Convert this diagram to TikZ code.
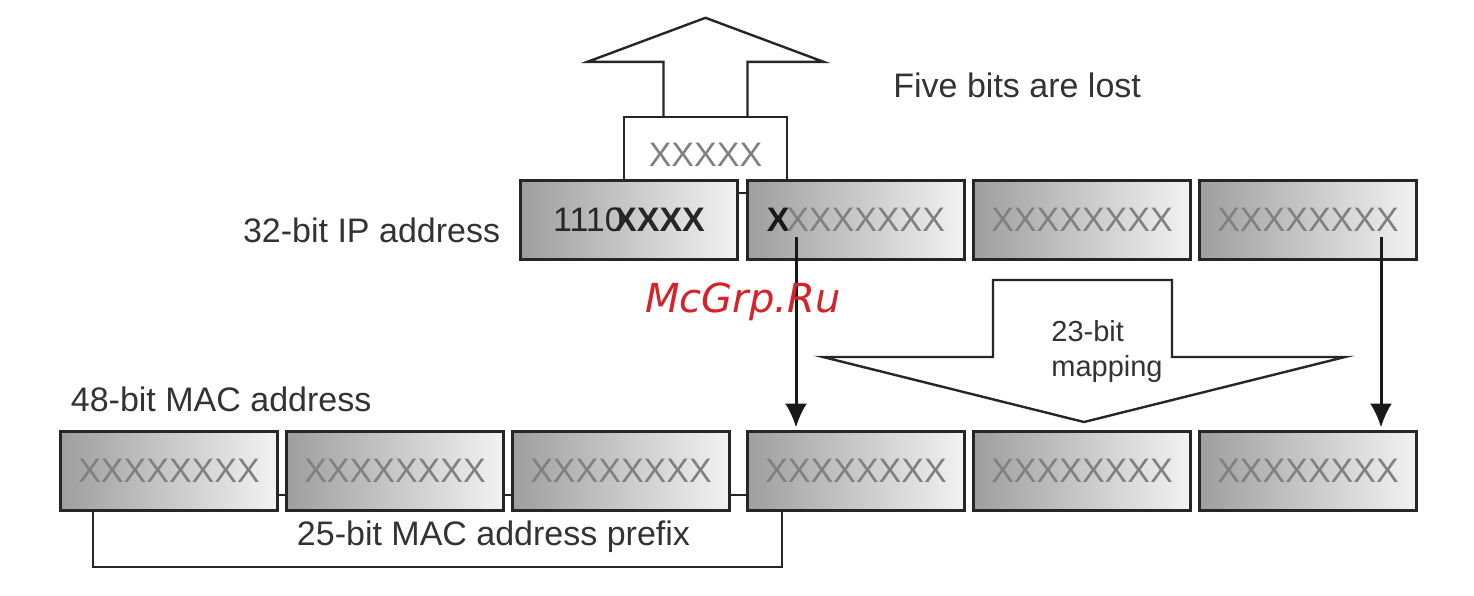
\documentclass[tikz,border=0pt]{standalone}
\usepackage{fontspec}
\setmainfont{Liberation Sans}
\newfontfamily\wmfont{DejaVu Sans}
\usepackage{xcolor}
\usetikzlibrary{%
  arrows.meta,
  positioning,
  calc,
  backgrounds}
\definecolor{wmred}{RGB}{214,34,40}
\tikzset{
  %% Byte boxes (IP and MAC rows)
  bytebox/.style={
    rectangle, draw=black!85, line width=1.5pt,
    left color=black!38, right color=black!5,
    minimum width=108.5pt, minimum height=39.5pt,
    inner sep=0pt, outer sep=0pt, text=black!50,
    font=\fontsize{17}{20}\selectfont},
  %% Box of the lost bits
  lostbox/.style={
    rectangle, draw=black!85, line width=1.2pt, fill=white,
    minimum width=81.5pt, minimum height=38pt,
    inner sep=0pt, text=black!50,
    font=\fontsize{17}{20}\selectfont},
  %% Hollow block arrows
  bigarrow/.style={draw=black!85, line width=1.2pt, fill=white, line join=miter},
  %% Plain texts
  txt/.style={inner sep=0pt, text=black!80, font=\fontsize{17}{20}\selectfont},
  smalltxt/.style={inner sep=0pt, text=black!80, font=\fontsize{14.5}{18}\selectfont},
  %% Lines
  arrow/.style={-{Latex[length=12pt,width=11pt]}, line width=1.5pt, black!90},
  bracket/.style={line width=1.2pt, black!85},
}
\begin{document}
\begin{tikzpicture}[x=0.5pt, y=-0.5pt, node distance=4.5pt]
  \useasboundingbox (0,0) rectangle (1474,595);

  %% Lost bits and up arrow
  \node[lostbox] (lost) at (705.5,155) {\raisebox{-2pt}{XXXXX}};
  \draw[bigarrow] ($(lost.north)+(-42,0)$) -- ++(0,-54) -- ++(-76,0)
    -- ($(lost.north)+(0,-98)$) -- ($(lost.north)+(118,-54)$) -- ++(-76,0)
    -- ($(lost.north)+(42,0)$);
  \node[txt, anchor=base west] (lostlabel) at (893,97) {Five bits are lost};

  %% IP address row
  \node[bytebox] (ipa) at (629,220)
    {\textcolor{black!85}{1110\kern-0.28em\textbf{XXXX}}};
  \node[bytebox, right=5pt of ipa] (ipb)
    {\textcolor{black!90}{\textbf{X}}\kern-0.1emXXXXXXX};
  \node[bytebox, right=of ipb] (ipc) {XXXXXXXX};
  \node[bytebox, right=of ipc] (ipd) {XXXXXXXX};
  \node[txt, anchor=base east] (iplabel) at ([xshift=-10pt, yshift=-11pt]ipa.west)
    {32-bit IP address};

  %% MAC address row
  \node[bytebox, below=86pt of ipb] (macd) {XXXXXXXX};
  \node[bytebox, right=of macd] (mace) {XXXXXXXX};
  \node[bytebox, right=of mace] (macf) {XXXXXXXX};
  \node[bytebox, left=9pt of macd] (macc) {XXXXXXXX};
  \node[bytebox, left=of macc] (macb) {XXXXXXXX};
  \node[bytebox, left=of macb] (maca) {XXXXXXXX};
  \begin{scope}[on background layer]
    \draw[bracket] ([yshift=-12pt]maca.center) -- ([yshift=-12pt]macd.center);
  \end{scope}
  \node[txt, anchor=base west] (maclabel) at ([xshift=5pt, yshift=10pt]maca.north west)
    {48-bit MAC address};

  %% Prefix bracket
  \coordinate (prefL) at (93,567);
  \coordinate (prefR) at (782,567);
  \draw[bracket] (maca.south -| prefL) -- (prefL) -- (prefR) -- (macd.south -| prefR);
  \node[txt, anchor=base] (preflabel) at ([xshift=28pt, yshift=11pt]$(prefL)!0.5!(prefR)$)
    {25-bit MAC address prefix};

  %% 23-bit mapping arrow
  \coordinate (maptop) at (1082.5,280);
  \draw[bigarrow] ($(maptop)+(-89.5,0)$) -- ++(0,77) -- ++(-170,0)
    -- ($(maptop)+(1.5,142)$) -- ($(maptop)+(262.5,77)$) -- ++(-173,0)
    -- ($(maptop)+(89.5,0)$) -- cycle;
  \node[smalltxt, anchor=base west] (mapa) at (1051,341) {23-bit};
  \node[smalltxt, anchor=base west] (mapb) at (1051,376) {mapping};

  %% Bit arrows
  \coordinate (srcL) at (796,237);
  \coordinate (srcR) at (1381,237);
  \draw[arrow, shorten >=2pt] (srcL) -- (srcL |- macd.north);
  \draw[arrow, shorten >=2pt] (srcR) -- (srcR |- macf.north);

  %% Watermark
  \node[inner sep=0pt, anchor=base west, text=wmred,
        font=\wmfont\itshape\fontsize{20}{24}\selectfont] (mark) at (645,312) {McGrp.Ru};

\end{tikzpicture}
\end{document}
